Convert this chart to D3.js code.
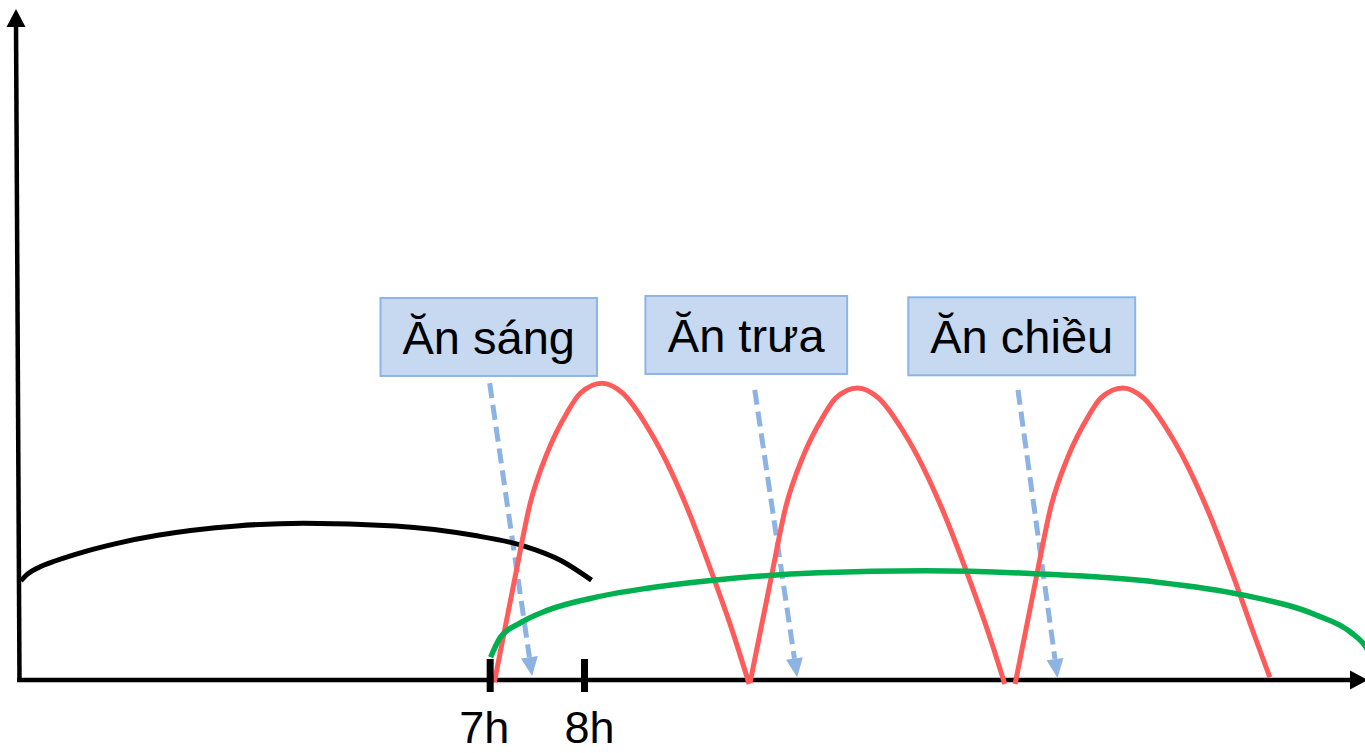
<!DOCTYPE html>
<html>
<head>
<meta charset="utf-8">
<script src="https://cdn.jsdelivr.net/npm/d3@7/dist/d3.min.js"></script>
<style>
  html, body { margin: 0; padding: 0; background: #fff; overflow: hidden; }
  svg { display: block; }
  text { font-family: "Liberation Sans", Arial, sans-serif; }
</style>
</head>
<body>
<svg id="chart" width="1365" height="753"></svg>
<script>
// Time of day (hours) and relative level
const tickHours = [7, 8];
const tickLabels = ["7h", "8h"];

// Fasting (overnight) curve
const fastingCurve = [
  [2.03, 14.8], [2.10, 15.8], [2.22, 16.8], [2.40, 17.8], [2.69, 19.1],
  [3.05, 20.4], [3.48, 21.6], [4.32, 23.0], [5.03, 23.4], [6.00, 23.0],
  [6.83, 21.6], [7.34, 20.1], [7.76, 17.8], [8.08, 14.9]
];

// Daytime background curve
const dayCurve = [
  [7.01, 3.4], [7.11, 6.3], [7.32, 8.5], [7.61, 10.4], [8.14, 12.4],
  [8.67, 13.7], [9.37, 14.9], [10.49, 16.0], [11.62, 16.3], [12.89, 15.8],
  [14.08, 14.6], [14.98, 12.7], [15.76, 9.7], [16.12, 7.2], [16.29, 4.9],
  [16.40, 2.0]
];

// Post-meal peaks
const breakfastCurve = [
  [7.05, -0.3], [7.27, 15.4], [7.43, 26.4], [7.61, 33.9], [7.82, 39.9],
  [7.96, 42.8], [8.19, 44.3], [8.41, 42.8], [8.67, 37.8], [8.88, 32.4],
  [9.09, 25.8], [9.37, 15.4], [9.58, 7.0], [9.75, -0.6]
];
const lunchCurve = [
  [9.76, -0.4], [9.98, 15.0], [10.14, 25.9], [10.32, 33.3], [10.53, 39.2],
  [10.67, 42.1], [10.90, 43.6], [11.12, 42.1], [11.38, 37.2], [11.59, 31.9],
  [11.80, 25.4], [12.08, 15.2], [12.29, 6.9], [12.46, -0.6]
];
const dinnerCurve = [
  [12.57, -0.6], [12.79, 15.0], [12.95, 25.9], [13.13, 33.3], [13.34, 39.2],
  [13.48, 42.1], [13.71, 43.6], [13.93, 42.1], [14.19, 37.2], [14.40, 31.9],
  [14.61, 25.4], [14.89, 15.2], [15.10, 6.9], [15.27, 0.4]
];

// Meal labels and their arrows
const mealNames = ["Ăn sáng", "Ăn trưa", "Ăn chiều"];
const mealLabelAt = [[6.99, 51.2], [9.72, 51.5], [12.64, 51.3]];
const mealArrowFrom = [[7.00, 44.3], [9.81, 43.3], [12.60, 43.3]];
const mealArrowTo = [[7.45, 0.6], [10.26, 0.4], [13.02, 0.3]];

const svg = d3.select("#chart");

const x = d3.scaleLinear().domain([2, 16.3]).range([18, 1367]);
const y = d3.scaleLinear().domain([0, 100]).range([680, 10]);

const line = d3.line()
  .x(d => x(d[0]))
  .y(d => y(d[1]))
  .curve(d3.curveMonotoneX);

// Filled triangular arrowhead pointing from (x1,y1) toward (x2,y2), tip at (x2,y2)
function arrowHead(g, x1, y1, x2, y2, len, half, fill) {
  const a = Math.atan2(y2 - y1, x2 - x1);
  const bx = x2 - len * Math.cos(a), by = y2 - len * Math.sin(a);
  const px = -Math.sin(a) * half, py = Math.cos(a) * half;
  g.append("path")
    .attr("d", `M${x2},${y2}L${bx + px},${by + py}L${bx - px},${by - py}Z`)
    .attr("fill", fill);
  return [bx, by];
}

// Axes
const axes = svg.append("g");
const x0 = x(2), yBase = y(0);
axes.append("line")
  .attr("x1", x0 - 1).attr("y1", yBase)
  .attr("x2", 1352).attr("y2", yBase)
  .attr("stroke", "#000").attr("stroke-width", 4.5);
arrowHead(axes, 1340, yBase, 1368, yBase, 18, 9.5, "#000");

axes.append("line")
  .attr("x1", x0 + 1.5).attr("y1", yBase + 2)
  .attr("x2", x0 - 2).attr("y2", 22)
  .attr("stroke", "#000").attr("stroke-width", 4.5);
arrowHead(axes, x0 - 2, 60, x0 - 2, 9, 18, 9.5, "#000");

// Meal arrows (dashed)
const arrows = svg.append("g");
mealArrowFrom.forEach((from, i) => {
  const to = mealArrowTo[i];
  const x1 = x(from[0]), y1 = y(from[1]), x2 = x(to[0]), y2 = y(to[1]);
  const base = arrowHead(arrows, x1, y1, x2, y2, 19, 8.5, "#8db3e2");
  arrows.append("line")
    .attr("x1", x1).attr("y1", y1)
    .attr("x2", base[0]).attr("y2", base[1])
    .attr("stroke", "#8db3e2").attr("stroke-width", 5)
    .attr("stroke-dasharray", "15 7");
});

// Curves
svg.append("path").datum(fastingCurve)
  .attr("d", line).attr("fill", "none")
  .attr("stroke", "#000").attr("stroke-width", 5);

[breakfastCurve, lunchCurve, dinnerCurve].forEach(c => {
  svg.append("path").datum(c)
    .attr("d", line).attr("fill", "none")
    .attr("stroke", "#ff5b5b").attr("stroke-width", 5);
});

svg.append("path").datum(dayCurve)
  .attr("d", line).attr("fill", "none")
  .attr("stroke", "#00b050").attr("stroke-width", 5.5);

// Hour ticks and labels
const xAxis = d3.axisBottom(x)
  .tickValues(tickHours)
  .tickFormat((d, i) => tickLabels[i])
  .tickSizeOuter(0);
const gx = svg.append("g")
  .attr("transform", `translate(0,${yBase})`)
  .call(xAxis);
gx.select(".domain").remove();
gx.selectAll(".tick line")
  .attr("y1", -21).attr("y2", 12)
  .attr("stroke", "#000").attr("stroke-width", 7);
gx.selectAll(".tick text")
  .attr("y", 63).attr("dy", null)
  .attr("dx", (d, i) => (i === 0 ? -6 : 5))
  .attr("fill", "#000")
  .style("font-size", "45px")
  .style("font-family", "'Liberation Sans', Arial, sans-serif");

// Meal label boxes
mealNames.forEach((name, i) => {
  const cx = x(mealLabelAt[i][0]), cy = y(mealLabelAt[i][1]);
  const g = svg.append("g");
  const rect = g.append("rect");
  const t = g.append("text")
    .attr("x", cx).attr("y", cy + 17)
    .attr("text-anchor", "middle")
    .style("font-size", "47px")
    .attr("fill", "#000")
    .text(name);
  const w = t.node().getBBox().width + 44;
  rect.attr("x", cx - w / 2).attr("y", cy - 39)
    .attr("width", w).attr("height", 78)
    .attr("fill", "#c6d9f1")
    .attr("stroke", "#8eb4e3").attr("stroke-width", 2);
});
</script>
</body>
</html>
